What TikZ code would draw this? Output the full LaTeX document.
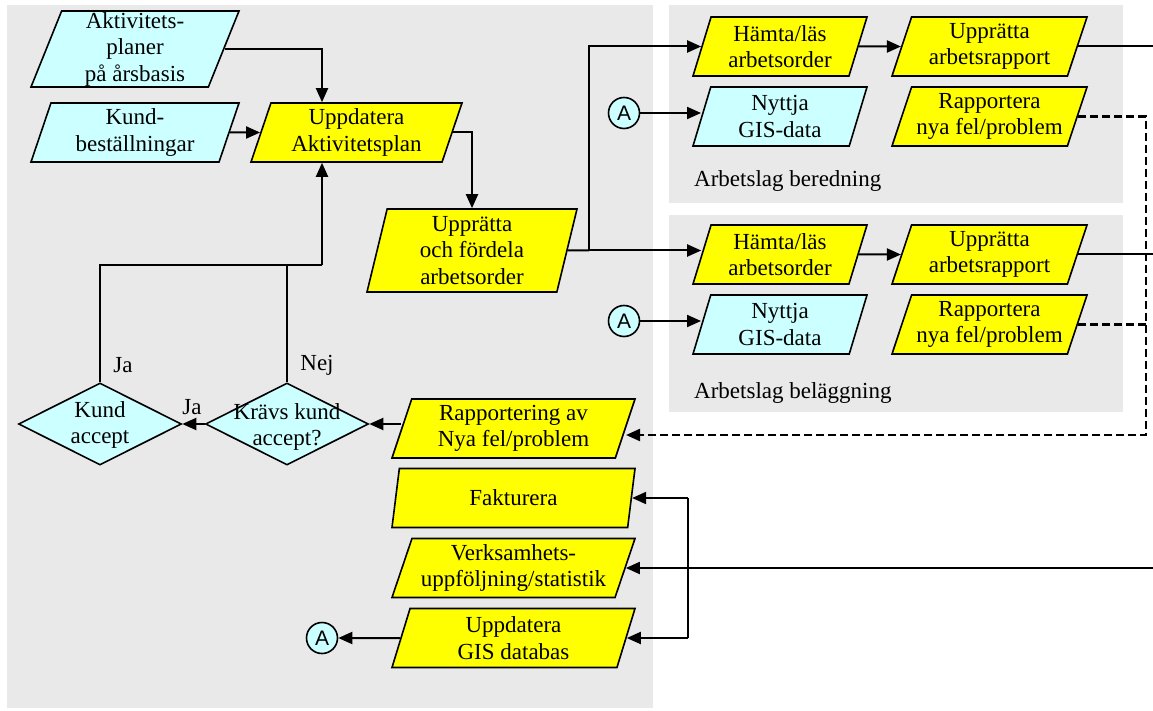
\documentclass[tikz,border=0pt]{standalone}
\usepackage{fontspec}
\setmainfont{Liberation Serif}
\newfontfamily\serifx{Liberation Serif}
\newfontfamily\sansx{Liberation Sans}
\usetikzlibrary{shapes.geometric,arrows.meta}
\definecolor{yel}{RGB}{255,255,0}
\definecolor{cyn}{RGB}{204,255,255}
\definecolor{bgg}{RGB}{233,233,233}
\newcommand\bodyfs{\serifx\fontsize{23}{26.5}\selectfont}
\begin{document}
\begin{tikzpicture}[x=1pt,y=-1pt,
  boxbase/.style={font=\bodyfs, align=center, inner sep=1pt, draw, line width=1.6pt},
  para/.style={boxbase, trapezium, trapezium left angle=68, trapezium right angle=112, trapezium stretches body},
  yb/.style={fill=yel},
  cb/.style={fill=cyn},
  dia/.style={diamond, draw, fill=cyn, line width=1.6pt, minimum width=163pt, minimum height=82pt, inner sep=0pt},
  txt/.style={font=\bodyfs, align=center, inner sep=0pt},
  circ/.style={circle, draw, fill=cyn, line width=1.6pt, minimum size=31pt, inner sep=0pt, font=\sansx\fontsize{21}{21}\selectfont},
  ln/.style={line width=2pt},
  arr/.style={line width=2pt, -{Triangle[length=14pt,width=12pt]}},
  dsh/.style={line width=2.2pt, dash pattern=on 8pt off 4pt}
]
\useasboundingbox (0,0) rectangle (1153,711);
% backgrounds
\fill[bgg] (7,5) rectangle (653,708);
\fill[bgg] (669,5) rectangle (1123,203);
\fill[bgg] (669,215) rectangle (1123,412);

% left column
\node[para,cb,minimum width=208pt,minimum height=76pt] (akt) at (135,49) {Aktivitets-\\planer\\på årsbasis};
\node[para,cb,minimum width=208pt,minimum height=59pt] (kb) at (135,132.5) {Kund-\\beställningar};
\node[para,yb,minimum width=211pt,minimum height=59pt] (upd) at (356.5,132.5) {Uppdatera\\Aktivitetsplan};
\node[para,yb,trapezium left angle=74,trapezium right angle=106,minimum width=210pt,minimum height=83pt] (upp) at (472,250.5) {Upprätta\\och fördela\\arbetsorder};

% panel 1
\node[para,yb,minimum width=174pt,minimum height=59pt] (h1) at (780,46.5) {Hämta/läs\\arbetsorder};
\node[para,yb,minimum width=195pt,minimum height=59pt] (u1) at (989.5,46.5) {Upprätta\\arbetsrapport};
\node[para,cb,minimum width=174pt,minimum height=59pt] (n1) at (780,116.5) {Nyttja\\GIS-data};
\node[para,yb,minimum width=195pt,minimum height=59pt] (r1) at (989.5,116.5) {Rapportera\\nya fel/problem};
\node[circ] (a1) at (624,113) {A};
\node[txt,anchor=west] (lb1) at (694,181) {Arbetslag beredning};

% panel 2
\node[para,yb,minimum width=174pt,minimum height=59pt] (h2) at (780,254.5) {Hämta/läs\\arbetsorder};
\node[para,yb,minimum width=195pt,minimum height=59pt] (u2) at (989.5,254.5) {Upprätta\\arbetsrapport};
\node[para,cb,minimum width=174pt,minimum height=59pt] (n2) at (780,324.5) {Nyttja\\GIS-data};
\node[para,yb,minimum width=195pt,minimum height=59pt] (r2) at (989.5,324.5) {Rapportera\\nya fel/problem};
\node[circ] (a2) at (624,321) {A};
\node[txt,anchor=west] (lb2) at (694,393) {Arbetslag beläggning};

% lower column
\node[para,yb,minimum width=243pt,minimum height=59pt] (rapp) at (513.5,428.5) {Rapportering av\\Nya fel/problem};
\node[para,yb,minimum width=243pt,minimum height=59pt] (fak) at (513.5,498) {Fakturera};
\node[para,yb,minimum width=243pt,minimum height=59pt] (verk) at (513.5,568) {Verksamhets-\\uppföljning/statistik};
\node[para,yb,minimum width=243pt,minimum height=59pt] (gis) at (513.5,638) {Uppdatera\\GIS databas};
\node[circ] (a3) at (322,638) {A};

% diamonds
\node[dia] (krav) at (287,424) {};
\node[txt] (kravT) at (287,427) {Krävs kund\\accept?};
\node[dia] (kund) at (100,424) {};
\node[txt] (kundT) at (100,425) {Kund\\accept};
\node[txt] (ja1) at (123,365) {Ja};
\node[txt] (nej) at (317,365) {Nej};
\node[txt] (ja2) at (192,407) {Ja};

% coordinates
\coordinate (jb) at (322,265);
\coordinate (br) at (589,250.5);
\coordinate (dx) at (1146,435);
\coordinate (bx) at (688,568);
\coordinate (rx) at (1153,0);

% connectors
\draw[arr] (akt.east) -| (jb |- upd.north);
\draw[arr] (kb.east) -- (upd.west);
\draw[arr] (upd.east) -| (upp.north);
\draw[ln] (upp.east) -- (br);
\draw[arr] (br) |- (h1.west);
\draw[arr] (br) -- (br -| h2.west);
\draw[arr] (h1.east) -- (u1.west);
\draw[arr] (h2.east) -- (u2.west);
\draw[ln] (u1.east) -- (u1.east -| rx);
\draw[ln] (u2.east) -- (u2.east -| rx);
\draw[arr] (a1) -- (a1 -| n1.west);
\draw[arr] (a2) -- (a2 -| n2.west);
\draw[dsh,-{Triangle[length=14pt,width=12pt]}] (r1.east) -| (dx) -- (dx -| rapp.east);
\draw[dsh] (r2.east) -- (r2.east -| dx);
\draw[arr] (rapp.west |- krav.east) -- (krav.east);
\draw[arr] (krav.west) -- (kund.east);
\draw[ln] (kund.north) |- (jb);
\draw[ln] (krav.north) -- (krav.north |- jb);
\draw[arr] (jb) -- (jb |- upd.south);
\draw[arr] (verk.east -| rx) -- (verk.east);
\draw[ln] (bx |- fak.east) -- (bx |- gis.east);
\draw[arr] (bx |- fak.east) -- (fak.east);
\draw[arr] (bx |- gis.east) -- (gis.east);
\draw[arr] (gis.west) -- (a3);
\end{tikzpicture}
\end{document}
